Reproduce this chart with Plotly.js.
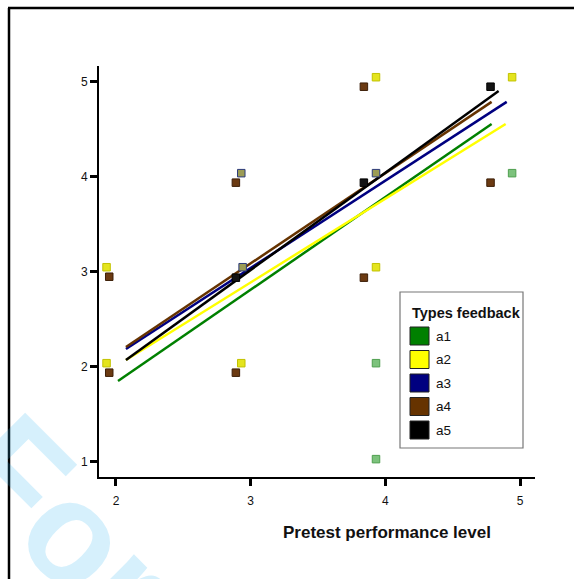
<!DOCTYPE html>
<html>
<head>
<meta charset="utf-8">
<script src="https://cdn.plot.ly/plotly-3.0.1.min.js"></script>
<style>html,body{margin:0;padding:0;background:#fff;}#chart{width:574px;height:579px;}</style>
</head>
<body>
<div id="chart"></div>
<script>
// ---- data ----
var groupNames = ['a1', 'a2', 'a3', 'a4', 'a5'];
var groupColors = ['#008000', '#ffff00', '#000080', '#663300', '#000000'];
var legendTitle = 'Types feedback';
var xTitle = 'Pretest performance level';
var xTicks = [2, 3, 4, 5];
var yTicks = [1, 2, 3, 4, 5];

// fit lines (start/end points)
var lineX = {
  a1: [2.015, 4.788],
  a2: [2.074, 4.892],
  a3: [2.074, 4.900],
  a4: [2.074, 4.788],
  a5: [2.074, 4.840]
};
var lineY = {
  a1: [1.853, 4.558],
  a2: [2.074, 4.558],
  a3: [2.190, 4.790],
  a4: [2.210, 4.790],
  a5: [2.074, 4.905]
};

// observed points (jittered, as drawn)
var ptsX = {
  a1: [3.93, 3.93, 4.94],
  a2: [1.93, 1.93, 2.93, 3.93, 3.93, 4.94],
  a3: [2.93, 2.94, 3.93],
  a4: [1.95, 1.95, 2.89, 2.89, 3.84, 3.84, 4.78],
  a5: [2.89, 3.84, 4.78]
};
var ptsY = {
  a1: [2.04, 1.03, 4.04],
  a2: [3.05, 2.04, 2.04, 5.05, 3.05, 5.05],
  a3: [4.04, 3.05, 4.04],
  a4: [2.95, 1.94, 3.94, 1.94, 4.95, 2.94, 3.94],
  a5: [2.94, 3.94, 4.95]
};
var ptFill = {a1: '#7cc27c', a2: '#e4e41e', a3: '#9c9c55', a4: '#6b3a12', a5: '#141414'};
var ptEdge = {a1: '#4f9f4f', a2: '#c2c200', a3: '#2b3a7a', a4: '#3d1f08', a5: '#000000'};

// ---- traces ----
var traces = [];
groupNames.forEach(function (g, i) {
  traces.push({
    type: 'scatter', mode: 'lines', name: g,
    x: lineX[g], y: lineY[g],
    line: {color: groupColors[i], width: 2.5},
    hoverinfo: 'skip', showlegend: false
  });
});
groupNames.forEach(function (g) {
  traces.push({
    type: 'scatter', mode: 'markers', name: g,
    x: ptsX[g], y: ptsY[g],
    marker: {symbol: 'square', size: 7.5, color: ptFill[g], line: {color: ptEdge[g], width: 1}},
    showlegend: false
  });
});

// ---- pixel -> paper helpers (plot area: x 99..535, y 66..477) ----
var L = 99, R = 535, T = 66, B = 477;
function px(x) { return (x - L) / (R - L); }
function py(y) { return (B - y) / (B - T); }

var shapes = [];
var annotations = [];

// outer frame
shapes.push({type: 'line', xref: 'paper', yref: 'paper', x0: px(9), x1: px(9), y0: py(8), y1: py(600), line: {color: '#000', width: 2.5}, layer: 'above'});
shapes.push({type: 'line', xref: 'paper', yref: 'paper', x0: px(8), x1: px(600), y0: py(8), y1: py(8), line: {color: '#000', width: 2.5}, layer: 'above'});

// legend box
shapes.push({type: 'rect', xref: 'paper', yref: 'paper', x0: px(400), x1: px(523), y0: py(292), y1: py(448), line: {color: '#777', width: 1.2}, fillcolor: '#fff', layer: 'above'});
annotations.push({xref: 'paper', yref: 'paper', x: px(410), y: py(313), xanchor: 'left', yanchor: 'middle', showarrow: false,
  text: '<b>' + legendTitle + '</b>', font: {family: 'Liberation Sans, Arial, sans-serif', size: 14.5, color: '#111'}});
var itemY = [336, 359.5, 383, 406.5, 430];
groupNames.forEach(function (g, i) {
  var cy = itemY[i];
  shapes.push({type: 'rect', xref: 'paper', yref: 'paper', x0: px(410), x1: px(429), y0: py(cy - 9), y1: py(cy + 9),
    line: {color: '#222', width: 1}, fillcolor: groupColors[i], layer: 'above'});
  annotations.push({xref: 'paper', yref: 'paper', x: px(434), y: py(cy), xanchor: 'left', yanchor: 'middle', showarrow: false,
    text: g, font: {family: 'Liberation Sans, Arial, sans-serif', size: 13.5, color: '#111'}});
});

// x-axis title
annotations.push({xref: 'paper', yref: 'paper', x: px(387), y: py(532), xanchor: 'center', yanchor: 'middle', showarrow: false,
  text: '<b>' + xTitle + '</b>', font: {family: 'Liberation Sans, Arial, sans-serif', size: 17, color: '#111'}});

// watermark
annotations.push({xref: 'paper', yref: 'paper', x: px(382), y: py(840), xanchor: 'center', yanchor: 'middle', showarrow: false,
  textangle: 45, text: '<b>For Peer Review</b>',
  font: {family: 'Liberation Sans, Arial, sans-serif', size: 145, color: 'rgba(50,180,240,0.2)'}});

var layout = {
  width: 574, height: 579,
  margin: {l: L, r: 574 - R, t: T, b: 579 - B, pad: 0},
  paper_bgcolor: '#fff', plot_bgcolor: '#fff',
  showlegend: false,
  xaxis: {
    range: [1.874, 5.11], tickvals: xTicks, ticktext: xTicks.map(String),
    showgrid: false, zeroline: false, showline: true, linecolor: '#000', linewidth: 2,
    ticks: 'outside', ticklen: 7, tickwidth: 3, tickcolor: '#000', ticklabelstandoff: 5,
    tickfont: {family: 'Liberation Sans, Arial, sans-serif', size: 12, color: '#111'}
  },
  yaxis: {
    range: [0.842, 5.168], tickvals: yTicks, ticktext: yTicks.map(String),
    showgrid: false, zeroline: false, showline: true, linecolor: '#000', linewidth: 2,
    ticks: 'outside', ticklen: 7, tickwidth: 3, tickcolor: '#000',
    tickfont: {family: 'Liberation Sans, Arial, sans-serif', size: 12, color: '#111'}
  },
  shapes: shapes,
  annotations: annotations
};

Plotly.newPlot('chart', traces, layout, {displayModeBar: false, staticPlot: true});
</script>
</body>
</html>
